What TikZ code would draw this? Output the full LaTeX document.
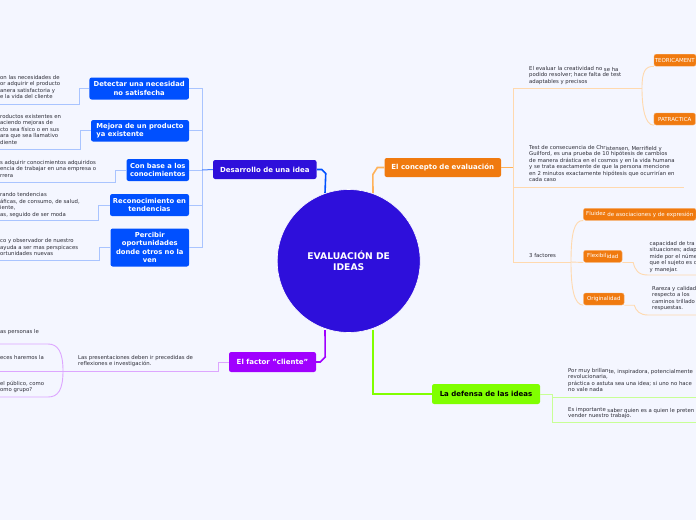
\documentclass[tikz,border=0pt]{standalone}
\usepackage{fontspec}
\setmainfont{DejaVu Sans}
\definecolor{bgc}{HTML}{F4F6FF}
\definecolor{indigoc}{HTML}{2E0FDB}
\definecolor{bluec}{HTML}{0050FF}
\definecolor{orangec}{HTML}{F07A0F}
\definecolor{orangemid}{HTML}{FFB25A}
\definecolor{purplec}{HTML}{A000FF}
\definecolor{greenc}{HTML}{80FF00}
\definecolor{lblue}{HTML}{A9C4FF}
\definecolor{lorange}{HTML}{FFD9AE}
\definecolor{lpurple}{HTML}{DDA6FF}
\definecolor{lgreen}{HTML}{C8FF96}
\definecolor{txt}{HTML}{2C2C36}
\newcommand{\dn}[1]{\raisebox{-0.8pt}{#1}}
\tikzset{
  box/.style={rectangle,rounded corners=2.2pt,inner sep=0pt,align=center,text=white,font=\bfseries\fontsize{6.8}{8.6}\selectfont},
  mainbox/.style={box,font=\bfseries\fontsize{7}{9}\selectfont},
  subbox/.style={box,fill=orangec,font=\fontsize{5.5}{6.4}\selectfont,draw=orangec!60!white,line width=.4pt},
  note/.style={inner sep=0pt,align=left,anchor=north west,text=txt,font=\fontsize{5.35}{6.45}\selectfont},
  bl/.style={lblue,line width=.9pt},
  ol/.style={lorange,line width=.9pt},
  pl/.style={lpurple,line width=.9pt},
  gl/.style={lgreen,line width=.9pt}
}
\begin{document}
\begin{tikzpicture}[x=1pt,y=-1pt]
\useasboundingbox (0,0) rectangle (696,520);
\fill[bgc] (0,0) rectangle (696,520);

% free ends
\coordinate (t1) at (0,104);
\coordinate (t2) at (0,149);
\coordinate (t3) at (0,182);
\coordinate (t4) at (0,220);
\coordinate (t5) at (0,260);
\coordinate (tr) at (202,170);
\coordinate (op1) at (642,88);
\coordinate (op2) at (684,187);
\coordinate (op3) at (571,262);
\coordinate (fx) at (696,275);
\coordinate (or) at (696,315);
\coordinate (g1) at (696,397);
\coordinate (g2) at (696,422);
\coordinate (ps) at (63,371);
\coordinate (pa) at (0,344);
\coordinate (pb) at (0,371);
\coordinate (pc) at (0,397);

% central node and branches
\node[circle,fill=indigoc,draw=white,line width=.6pt,minimum size=143pt,inner sep=0pt,text=white,align=center,font=\bfseries\fontsize{9.2}{11}\selectfont] (root) at (348.7,261) {EVALUACIÓN DE\\IDEAS};

\node[mainbox,fill=indigoc,minimum width=103.5pt,minimum height=19pt] (des) at (264.8,169.5) {Desarrollo de una idea};
\node[mainbox,fill=orangec,minimum width=116.5pt,minimum height=19pt] (con) at (442.8,167.5) {El concepto de evaluación};
\node[mainbox,fill=purplec,minimum width=87pt,minimum height=20pt] (fac) at (272.5,362) {El factor "cliente"};
\node[mainbox,fill=greenc,text=black,minimum width=108pt,minimum height=20pt] (def) at (486,394) {La defensa de las ideas};

\node[box,fill=bluec,minimum width=99.5pt,minimum height=22pt] (b1) at (139.2,88.5) {Detectar una necesidad\\no satisfecha};
\node[box,fill=bluec,minimum width=98pt,minimum height=21.5pt,align=left] (b2) at (140,130.8) {Mejora de un producto\\ya existente};
\node[box,fill=bluec,minimum width=62.5pt,minimum height=22pt] (b3) at (157.8,170) {Con base a los\\conocimientos};
\node[box,fill=bluec,minimum width=79pt,minimum height=22pt] (b4) at (149.5,205) {Reconocimiento en\\tendencias};
\node[box,fill=bluec,minimum width=78.5pt,minimum height=38pt] (b5) at (149.8,247.5) {Percibir\\oportunidades\\donde otros no la\\ven};

% orange sub nodes
\node[subbox,minimum width=42pt,minimum height=12pt] (teo) at (675,60.2) {\hspace*{-.5pt}TEORICAMENT};
\node[subbox,minimum width=41.5pt,minimum height=12pt] (pat) at (674.7,119) {PATRACTICA};
\node[subbox,minimum width=112.5pt,minimum height=12pt] (flu) at (639.7,214.3) {Fluidez \dn{de asociaciones y de expresión}};
\node[subbox,minimum width=38.5pt,minimum height=12pt] (fle) at (602.8,256.3) {Flexibil\dn{idad}};
\node[subbox,minimum width=40.5pt,minimum height=12pt] (ori) at (603.8,299) {Originalidad};

% connectors: main
\draw[bluec,line width=1.6pt] (des.east) -- ++(5,0) -- ++(4,4) -- (325,193);
\draw[orangemid,line width=1.6pt] (con.west) -- ++(-7,0) -- ++(-4.5,7) -- (373,193);
\draw[purplec,line width=1.6pt] (fac.east) -- ++(4,0) -- ++(5,-5) -- (325,330);
\draw[greenc,line width=1.6pt] (373,330) -- (373,394) -- (def.west);

% connectors: blue
\draw[bl] (b1.east) -- (202,88.5) -- (202,247.5) -- (b5.east);
\draw[bl] (b2.east) -- (202,130.8);
\draw[bl] (b3.east) -- (tr);
\draw[bl] (b4.east) -- (202,205);
\draw[bluec!70,line width=1pt] (tr) -- (des.west);
\draw[bl] (b1.west) -- ++(-10,0) |- (t1);
\draw[bl] (b2.west) -- ++(-10,0) |- (t2);
\draw[bl] (b3.west) -- ++(-10.5,0) |- (t3);
\draw[bl] (b4.west) -- ++(-11,0) |- (t4);
\draw[bl] (b5.west) -- ++(-10.5,0) |- (t5);

% connectors: orange
\draw[orangemid,line width=.9pt] (con.east) -- (513,167.5);
\draw[ol] (513,88) -- (513,262);
\draw[ol] (513,88) -- (op1);
\draw[ol] (513,187) -- (op2);
\draw[ol] (513,262) -- (op3);
\draw[ol] (op1) .. controls (642,72) and (645,66) .. (teo.south west);
\draw[ol] (op1) .. controls (642,108) and (645,125) .. (pat.south west);
\draw[ol] (op3) .. controls (571,234) and (574,220) .. (flu.south west);
\draw[ol] (op3) -- (fle.south west);
\draw[ol] (op3) .. controls (571,288) and (574,305) .. (ori.south west);
\draw[ol] (fle.south east) -- ++(11,0) .. controls (635,270) and (638,275) .. (648,275) -- (fx);
\draw[ol] (ori.south east) -- ++(10,0) .. controls (636,311) and (640,315) .. (648,315) -- (or);

% connectors: purple
\draw[pl] (fac.west) -- ++(-10,0) |- (ps);
\draw[pl] (ps) -- (pb);
\draw[pl] (ps) .. controls (63,352) and (58,344) .. (48,344) -- (pa);
\draw[pl] (ps) .. controls (63,390) and (58,397) .. (48,397) -- (pc);

% connectors: green
\draw[gl] (def.east) -- (552,394) -- (552,422) -- (g2);
\draw[gl] (552,397) -- (g1);

% notes, left
\node[note] (n1) at (0,75) {on las necesidades de\\or adquirir el producto\\anera satisfactoria y\\e la vida del cliente};
\node[note] (n2) at (0,114) {roductos existentes en\\aciendo mejoras de\\cto sea físico o en sus\\ara que sea llamativo\\diente};
\node[note] (n3) at (0,160) {s adquirir conocimientos adquiridos\\encia de trabajar en una empresa o\\rrera};
\node[note] (n4) at (0,192.5) {rando tendencias\\áficas, de consumo, de salud,\\iente,\\as, seguido de ser moda};
\node[note] (n5) at (0,238.5) {co y observador de nuestro\\ayuda a ser mas perspicaces\\ortunidades nuevas};
\node[note] (n6) at (0,329) {as personas le};
\node[note] (n7) at (0,355) {eces haremos la};
\node[note] (n8) at (0,381) {el público, como\\omo grupo?};
\node[note] (n9) at (78,355) {Las presentaciones deben ir precedidas de\\reflexiones e investigación.};

% notes, right
\node[note] (n10) at (529,66) {El evaluar la creatividad no \dn{se ha}\\podido resolver; hace falta de test\\adaptables y precisos};
\node[note] (n11) at (529,145) {Test de consecuencia de Chr\dn{istensen, Merrifield y}\\Guilford, es una prueba de 10 hipótesis de cambios\\de manera drástica en el cos\dn{mos y en la vida humana}\\y se trata exactamente de que la persona mencione\\en 2 minutos exactamente h\dn{ipótesis que ocurrirían en}\\cada caso};
\node[note] (n12) at (529,253) {3 factores};
\node[note] (n13) at (649.5,241) {capacidad de tra\\situaciones; adap\\mide por el núme\\que el sujeto es c\\y manejar.};
\node[note] (n14) at (652,286) {Rareza y calidad\\respecto a los\\caminos trillado\\respuestas.};
\node[note] (n15) at (568,368) {Por muy brillan\dn{te, inspiradora, potencialmente}\\revolucionaria,\\práctica o astu\dn{ta sea una idea; si uno no hace}\\no vale nada};
\node[note] (n16) at (568,407) {Es importante \dn{saber quien es a quien le preten}\\vender nuestro trabajo.};
\end{tikzpicture}
\end{document}
